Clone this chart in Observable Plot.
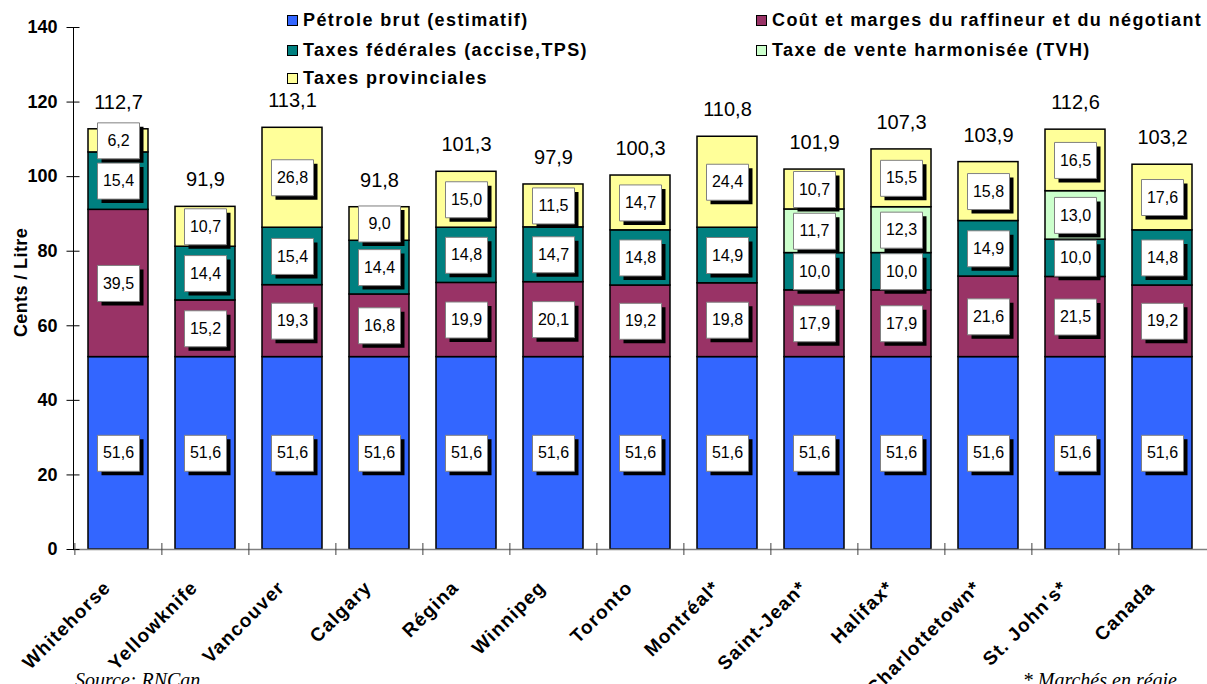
<!DOCTYPE html>
<html>
<head>
<meta charset="utf-8">
<script src="https://cdn.jsdelivr.net/npm/d3@7"></script>
<script src="https://cdn.jsdelivr.net/npm/@observablehq/plot@0.6"></script>
<style>
  html, body { margin: 0; padding: 0; background: #fff; overflow: hidden; }
  #wrap { position: relative; width: 1207px; height: 684px; font-family: "Liberation Sans", Arial, sans-serif; }
  .legend { position: absolute; font-weight: bold; font-size: 18px; white-space: nowrap; display: flex; align-items: center; letter-spacing: 1.4px; }
  .legend span.sw { display: inline-block; width: 9px; height: 9px; border: 1px solid #000; margin-right: 5px; }
  .cap { position: absolute; font-family: "Liberation Serif", "Times New Roman", serif; font-style: italic; font-size: 20px; }
  .ylab { position: absolute; font-weight: bold; font-size: 18px; letter-spacing: 0.4px; transform: rotate(-90deg); transform-origin: center; white-space: nowrap; }
</style>
</head>
<body>
<div id="wrap"></div>
<script>
const cities = ["Whitehorse","Yellowknife","Vancouver","Calgary","Régina","Winnipeg","Toronto","Montréal*","Saint-Jean*","Halifax*","Charlottetown*","St. John's*","Canada"];
const seriesNames = ["Pétrole brut (estimatif)","Coût et marges du raffineur et du négotiant","Taxes fédérales (accise,TPS)","Taxe de vente harmonisée (TVH)","Taxes provinciales"];
const crude      = [51.6,51.6,51.6,51.6,51.6,51.6,51.6,51.6,51.6,51.6,51.6,51.6,51.6];
const refiner    = [39.5,15.2,19.3,16.8,19.9,20.1,19.2,19.8,17.9,17.9,21.6,21.5,19.2];
const federal    = [15.4,14.4,15.4,14.4,14.8,14.7,14.8,14.9,10.0,10.0,14.9,10.0,14.8];
const hst        = [0,0,0,0,0,0,0,0,11.7,12.3,0,13.0,0];
const provincial = [6.2,10.7,26.8,9.0,15.0,11.5,14.7,24.4,10.7,15.5,15.8,16.5,17.6];
const totals     = [112.7,91.9,113.1,91.8,101.3,97.9,100.3,110.8,101.9,107.3,103.9,112.6,103.2];
const yTicks     = [0,20,40,60,80,100,120,140];
const colors     = ["#3366FF","#993366","#008080","#CCFFCC","#FFFF99"];

const seriesValues = [crude, refiner, federal, hst, provincial];
const data = [];
seriesNames.forEach((s, si) => {
  cities.forEach((c, ci) => {
    const v = seriesValues[si][ci];
    if (v > 0) data.push({city: c, series: s, value: v});
  });
});
const fmt = v => v.toFixed(1).replace(".", ",");
const boxSym = {draw(ctx) { ctx.rect(-21, -18, 42, 36); }};
const step = (1207 - 73) / cities.length;

const chart = Plot.plot({
  width: 1207, height: 684,
  marginLeft: 73, marginRight: 0, marginTop: 27, marginBottom: 135,
  x: {domain: cities, paddingInner: 0.31, paddingOuter: 0.155, label: null},
  y: {domain: [0, 140], label: null},
  color: {domain: seriesNames, range: colors},
  style: {fontFamily: "'Liberation Sans', Arial, sans-serif", color: "#000", background: "#fff"},
  marks: [
    Plot.barY(data, {x: "city", y: "value", z: "series", fill: "series", stroke: "#000", strokeWidth: 1.5}),
    Plot.dot(data, Plot.stackY({x: "city", y: "value", z: "series", symbol: boxSym, r: 10, fill: "#000", stroke: "none", dx: 4, dy: 4})),
    Plot.dot(data, Plot.stackY({x: "city", y: "value", z: "series", symbol: boxSym, r: 10, fill: "#fff", stroke: "#808080", strokeWidth: 1})),
    Plot.text(data, Plot.stackY({x: "city", y: "value", z: "series", text: d => fmt(d.value), fontSize: 16, fill: "#000"})),
    Plot.text(cities, {x: d => d, y: (d, i) => totals[i], text: (d, i) => fmt(totals[i]), dy: -27, fontSize: 20, fill: "#000"}),
    Plot.ruleY([0], {stroke: "#808080", strokeWidth: 1.5}),
    Plot.frame({anchor: "left", stroke: "#000"}),
    Plot.axisY({ticks: yTicks, tickSize: 0, tickPadding: 16, tickFormat: d => d, fontSize: 18, fontWeight: "bold", label: null}),
    Plot.axisY({ticks: yTicks, tickSize: 13, dx: 6.5, tickFormat: () => "", stroke: "#000", label: null}),
    Plot.axisX({tickSize: 12, dx: -step / 2, dy: -6, tickFormat: () => "", stroke: "#404040", label: null}),
    Plot.axisX({tickSize: 0, tickRotate: -45, dx: -11, dy: 23, fontSize: 19, fontWeight: "bold", label: null})
  ]
});

const wrap = document.getElementById("wrap");
wrap.appendChild(chart);
chart.querySelectorAll("g[aria-label='x-axis tick label'] text").forEach(t => t.setAttribute("letter-spacing", "1.2"));

const legendPos = [
  {left: 287, top: 10}, {left: 756, top: 10},
  {left: 287, top: 40}, {left: 756, top: 40},
  {left: 287, top: 68}
];
seriesNames.forEach((s, i) => {
  const d = document.createElement("div");
  d.className = "legend";
  d.style.left = legendPos[i].left + "px";
  d.style.top = legendPos[i].top + "px";
  d.innerHTML = `<span class="sw" style="background:${colors[i]}"></span>${s}`;
  wrap.appendChild(d);
});

const yl = document.createElement("div");
yl.className = "ylab";
yl.textContent = "Cents / Litre";
wrap.appendChild(yl);
yl.style.left = (21 - yl.offsetWidth / 2) + "px";
yl.style.top = (282 - yl.offsetHeight / 2) + "px";

const c1 = document.createElement("div");
c1.className = "cap";
c1.textContent = "Source: RNCan";
c1.style.left = "75px"; c1.style.top = "669px";
wrap.appendChild(c1);
const c2 = document.createElement("div");
c2.className = "cap";
c2.textContent = "* Marchés en régie";
c2.style.right = "30px"; c2.style.top = "669px";
wrap.appendChild(c2);
</script>
</body>
</html>
